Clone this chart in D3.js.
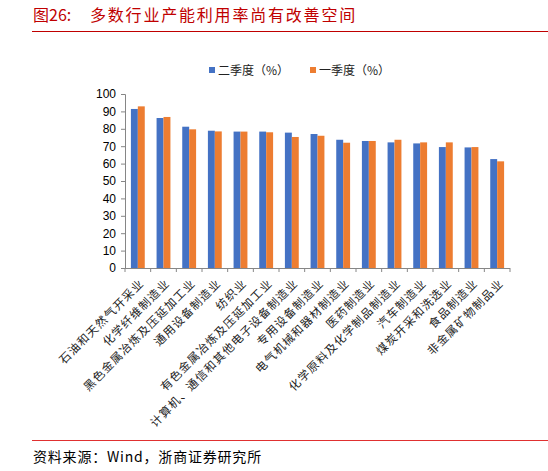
<!DOCTYPE html>
<html>
<head>
<meta charset="utf-8">
<script src="https://cdn.jsdelivr.net/npm/d3@7"></script>
<style>
  html, body { margin: 0; padding: 0; background: #fff; overflow: hidden; }
  svg { display: block; overflow: visible; }
</style>
</head>
<body>
<div id="chart"></div>
<script>
const categories = [
  "石油和天然气开采业", "化学纤维制造业", "黑色金属冶炼及压延加工业", "通用设备制造业", "纺织业",
  "有色金属冶炼及压延加工业", "计算机、通信和其他电子设备制造业", "专用设备制造业", "电气机械和器材制造业",
  "医药制造业", "化学原料及化学制品制造业", "汽车制造业", "煤炭开采和洗选业", "食品制造业", "非金属矿物制品业"
];
const q2Values = [91.4, 86.2, 81.2, 78.9, 78.4, 78.4, 77.8, 77.0, 73.7, 73.0, 72.2, 71.6, 69.5, 69.3, 62.6];
const q1Values = [92.9, 86.8, 79.7, 78.5, 78.4, 78.0, 75.3, 76.0, 72.0, 73.0, 73.7, 72.2, 72.2, 69.5, 61.3];
const seriesNames = ["二季度（%）", "一季度（%）"];
const yTicks = [0, 10, 20, 30, 40, 50, 60, 70, 80, 90, 100];

const width = 548, height = 471;
const margin = { top: 94, right: 38, bottom: 203, left: 125 };
const innerWidth = width - margin.left - margin.right;
const innerHeight = height - margin.top - margin.bottom;
const colors = ["#4472C4", "#ED7D31"];
const cjk = "'Noto Sans CJK SC', sans-serif";

const svg = d3.select('#chart').append('svg').attr('width', width).attr('height', height);

// title
svg.append('text').attr('x', 33).attr('y', 21).attr('fill', '#C00000')
  .style('font-family', cjk).style('font-size', '16px').text('图26:');
svg.append('text').attr('x', 90).attr('y', 21).attr('fill', '#C00000')
  .style('font-family', cjk).style('font-size', '16px').style('letter-spacing', '1.8px')
  .text('多数行业产能利用率尚有改善空间');
svg.append('line').attr('x1', 32).attr('x2', 548).attr('y1', 31.5).attr('y2', 31.5)
  .attr('stroke', '#C00000').attr('stroke-width', 1);

// footer
svg.append('line').attr('x1', 32).attr('x2', 548).attr('y1', 440.5).attr('y2', 440.5)
  .attr('stroke', '#E03030').attr('stroke-width', 1);
svg.append('text').attr('x', 33).attr('y', 462).attr('fill', '#000')
  .style('font-family', cjk).style('font-size', '14px').style('letter-spacing', '0.8px')
  .text('资料来源：Wind，浙商证券研究所');

const xScale = d3.scaleBand().domain(categories).range([0, innerWidth]).paddingInner(0.46).paddingOuter(0.23);
const xSub = d3.scaleBand().domain([0, 1]).range([0, xScale.bandwidth()]);
const yScale = d3.scaleLinear().domain([0, 100]).range([innerHeight, 0]);

const chart = svg.append('g').attr('transform', `translate(${margin.left},${margin.top})`);

const rows = categories.map((c, i) => ({ c, v: [q2Values[i], q1Values[i]] }));
const groups = chart.selectAll('.grp').data(rows).enter().append('g')
  .attr('transform', d => `translate(${xScale(d.c)},0)`);
groups.selectAll('rect').data(d => d.v).enter().append('rect')
  .attr('x', (d, i) => xSub(i))
  .attr('width', xSub.bandwidth())
  .attr('y', d => yScale(d))
  .attr('height', d => innerHeight - yScale(d))
  .attr('fill', (d, i) => colors[i]);

// y axis
const yAxis = d3.axisLeft(yScale).tickValues(yTicks).tickSize(4).tickPadding(5);
const yg = chart.append('g').call(yAxis);
yg.select('.domain').attr('stroke', '#868686');
yg.selectAll('.tick line').attr('stroke', '#868686');
yg.selectAll('.tick text').style('font-family', 'Arial, "Liberation Sans", sans-serif')
  .style('font-size', '12px').attr('fill', '#000');

// x axis: tick marks between categories
const xg = chart.append('g').attr('transform', `translate(0,${innerHeight})`);
xg.append('line').attr('x1', 0).attr('x2', innerWidth).attr('y1', 0.5).attr('y2', 0.5).attr('stroke', '#868686');
const step = xScale.step();
xg.selectAll('.xt').data(d3.range(categories.length + 1)).enter().append('line')
  .attr('x1', i => i * step).attr('x2', i => i * step).attr('y1', 0).attr('y2', 4)
  .attr('stroke', '#868686');
xg.selectAll('.xl').data(categories).enter().append('text')
  .attr('transform', d => `translate(${xScale(d) + xScale.bandwidth() / 2 + 7},${16}) rotate(-45)`)
  .attr('text-anchor', 'end')
  .style('font-family', cjk).style('font-size', '11.5px').style('letter-spacing', '1.2px')
  .attr('fill', '#222')
  .text(d => d);

// legend
const legend = svg.append('g').attr('transform', 'translate(209,66)');
const legendX = [0, 101];
seriesNames.forEach((name, i) => {
  const g = legend.append('g').attr('transform', `translate(${legendX[i]},0)`);
  g.append('rect').attr('width', 6).attr('height', 6).attr('y', 1).attr('fill', colors[i]);
  g.append('text').attr('x', 9).attr('y', 8.5)
    .style('font-family', cjk).style('font-size', '12px').attr('fill', '#222').text(name);
});
</script>
</body>
</html>
